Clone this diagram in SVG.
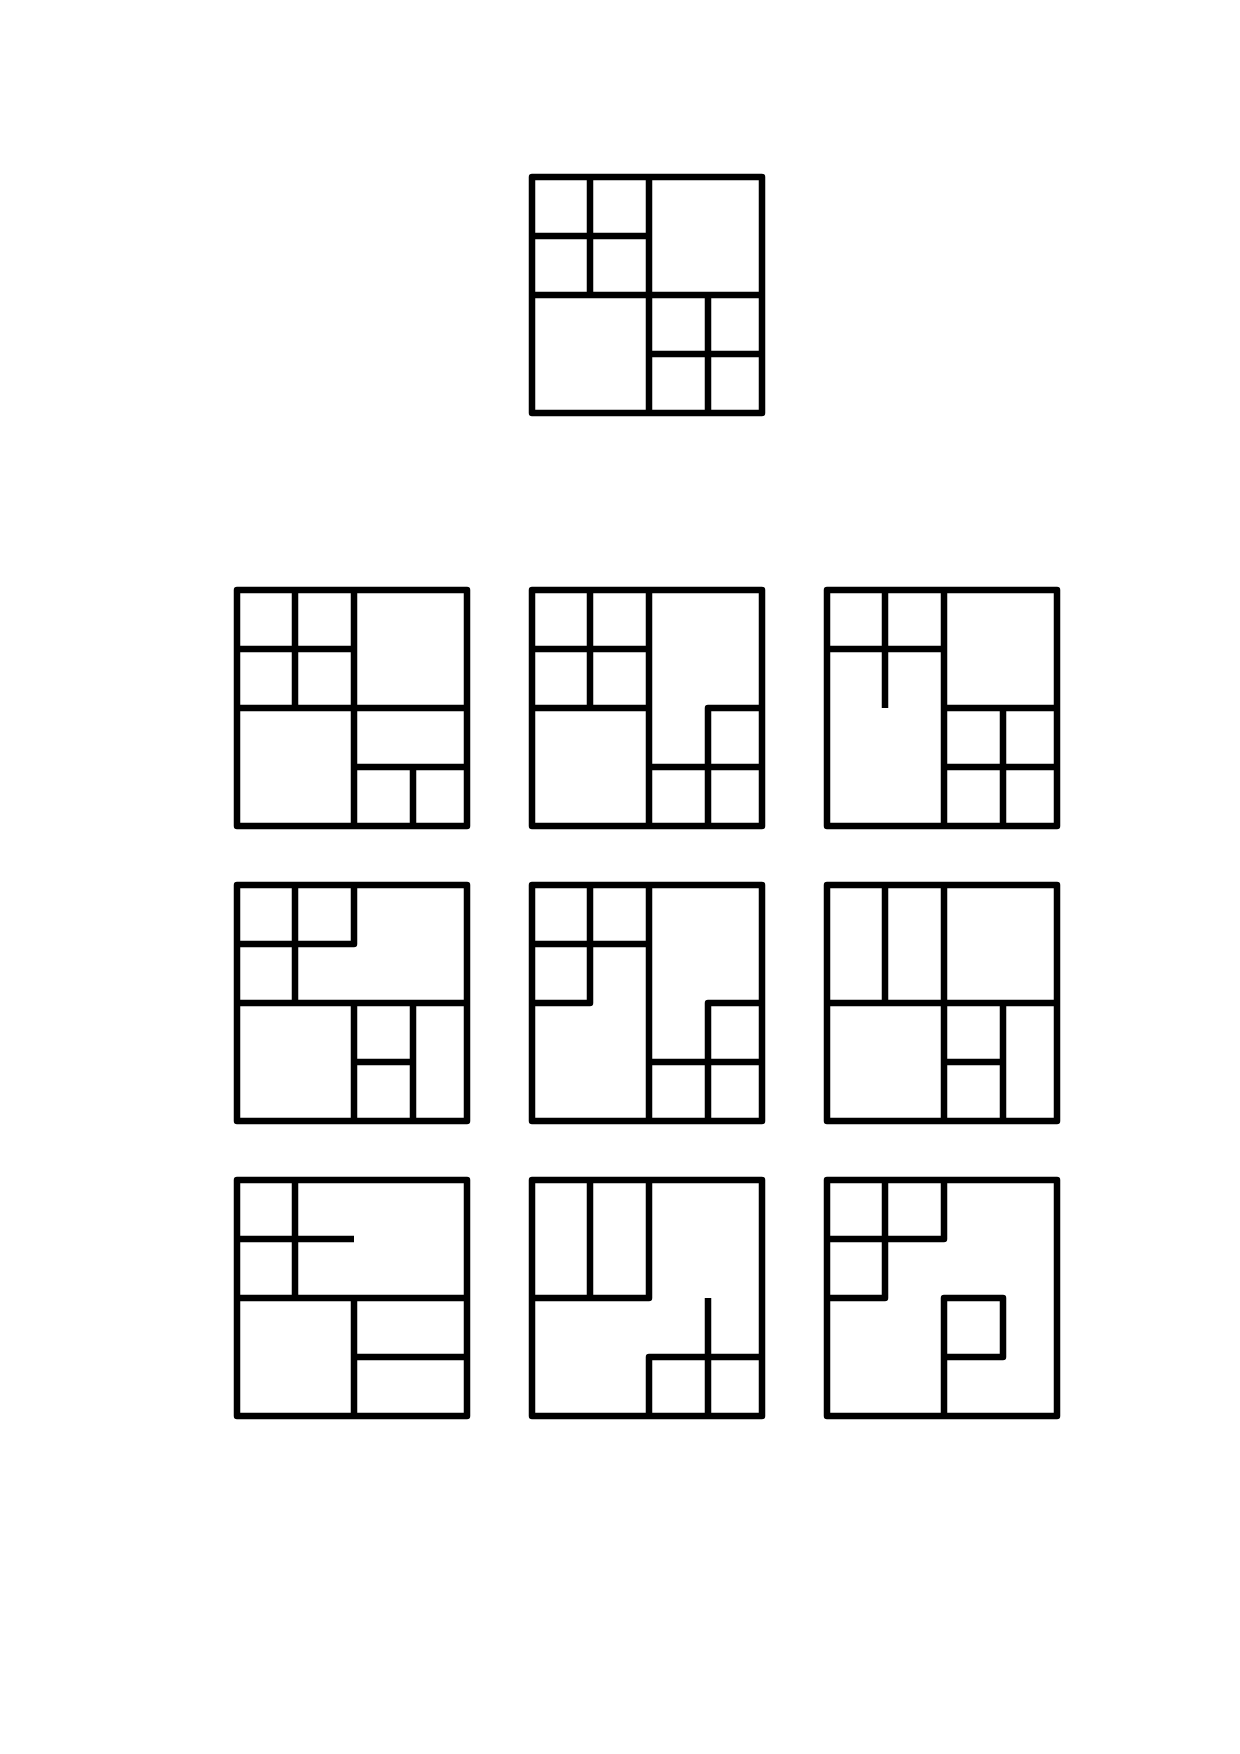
<svg xmlns="http://www.w3.org/2000/svg" width="1240" height="1754" viewBox="0 0 1240 1754">
<style>
.f{fill:none;stroke:#000;stroke-width:6.5;stroke-linejoin:round;stroke-linecap:butt}
</style>
<rect width="1240" height="1754" fill="#fff"/>
<defs>
<rect id="frame" class="f" x="0" y="0" width="230" height="236"/>
</defs>
<g id="question" transform="translate(532,177)">
<use href="#frame"/>
<path class="f" d="M117 0V236M0 118H230M58 0V118M0 59H117M176 118V236M117 177H230"/>
</g>
<g id="option-1" transform="translate(237,590)">
<use href="#frame"/>
<path class="f" d="M117 0V236M0 118H230M58 0V118M0 59H117M117 177H230M176 177V236"/>
</g>
<g id="option-2" transform="translate(532,590)">
<use href="#frame"/>
<path class="f" d="M117 0V236M0 118H117M58 0V118M0 59H117M176 236V118H230M117 177H230"/>
</g>
<g id="option-3" transform="translate(827,590)">
<use href="#frame"/>
<path class="f" d="M117 0V236M117 118H230M58 0V118M0 59H117M176 118V236M117 177H230"/>
</g>
<g id="option-4" transform="translate(237,885)">
<use href="#frame"/>
<path class="f" d="M0 118H230M58 0V118M0 59H117V0M117 118V236M176 118V236M117 177H176"/>
</g>
<g id="option-5" transform="translate(532,885)">
<use href="#frame"/>
<path class="f" d="M117 0V236M58 0V118H0M0 59H117M176 236V118H230M117 177H230"/>
</g>
<g id="option-6" transform="translate(827,885)">
<use href="#frame"/>
<path class="f" d="M58 0V118M117 0V236M0 118H230M176 118V236M117 177H176"/>
</g>
<g id="option-7" transform="translate(237,1180)">
<use href="#frame"/>
<path class="f" d="M58 0V118M0 59H117M0 118H230M117 118V236M117 177H230"/>
</g>
<g id="option-8" transform="translate(532,1180)">
<use href="#frame"/>
<path class="f" d="M58 0V118M0 118H117V0M117 236V177H230M176 118V236"/>
</g>
<g id="option-9" transform="translate(827,1180)">
<use href="#frame"/>
<path class="f" d="M58 0V118H0M0 59H117V0M117 236V118H176V177H117"/>
</g>
<g id="connectors"/>
</svg>
